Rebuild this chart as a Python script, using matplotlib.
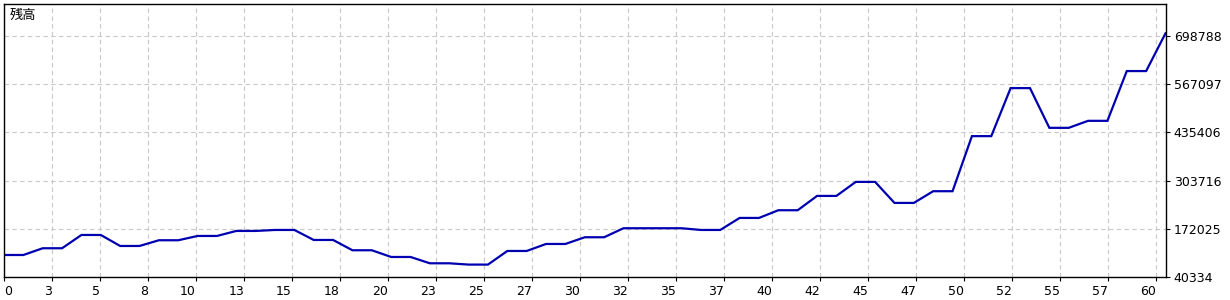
import matplotlib
matplotlib.use("Agg")
import matplotlib.pyplot as plt
import numpy as np

# --- DATA ---
balance = [
    100500, 100500, 118900, 118900, 155200, 155200, 125150, 125150, 140750, 140750,
    152500, 152500, 166200, 166200, 168900, 168900, 141550, 141550, 113400, 113400,
    95050, 95050, 77800, 77800, 74250, 74250, 111450, 111450, 130600, 130600,
    148950, 148950, 173600, 173600, 173600, 173600, 168900, 168900, 201750, 201750,
    222800, 222800, 261950, 261950, 300250, 300250, 242800, 242800, 274800, 274800,
    425300, 425300, 556600, 556600, 448000, 448000, 467150, 467150, 603150, 603150,
    706300,
]
x_labels = ["0", "3", "5", "8", "10", "13", "15", "18", "20", "23", "25", "27", "30",
            "32", "35", "37", "40", "42", "45", "47", "50", "52", "55", "57", "60"]
y_ticks = [40334, 172025, 303716, 435406, 567097, 698788]
title = "残高"

# --- LAYOUT ---
W, H = 1230, 300
AX_L, AX_R, AX_T, AX_B = 4, 1165.5, 4, 277
X_GRID_PX = 48
Y_TOP = 786441

fig = plt.figure(figsize=(W / 100, H / 100), dpi=100)
ax = fig.add_axes([AX_L / W, 1 - AX_B / H, (AX_R - AX_L) / W, (AX_B - AX_T) / H])

x = np.arange(len(balance))
ax.plot(x, balance, color="#0000B0", linewidth=1.6, solid_joinstyle="miter")

x_max = len(balance) - 1
ax.set_xlim(0, x_max)
ax.set_ylim(y_ticks[0], Y_TOP)

step = X_GRID_PX / ((AX_R - AX_L) / x_max)
ax.set_xticks(np.arange(len(x_labels)) * step)
ax.set_xticklabels(x_labels)
for i, lab in enumerate(ax.get_xticklabels()):
    lab.set_horizontalalignment("left" if i == 0 else "right")
ax.set_yticks(y_ticks)
ax.set_yticklabels([str(v) for v in y_ticks])

ax.yaxis.tick_right()
ax.tick_params(axis="both", labelsize=9, colors="black", length=3, width=0.8, direction="out")
ax.tick_params(axis="x", pad=3)
ax.tick_params(axis="y", pad=3)

ax.grid(True, color="#c8c8c8", linestyle=(0, (4, 3)), linewidth=0.8)
for s in ax.spines.values():
    s.set_color("black")
    s.set_linewidth(1.0)

ax.text(0.0052, 0.982, title, transform=ax.transAxes, ha="left", va="top",
        fontsize=9.5, family=["Noto Sans CJK JP", "DejaVu Sans"])

fig.savefig("out.png", dpi=100)
